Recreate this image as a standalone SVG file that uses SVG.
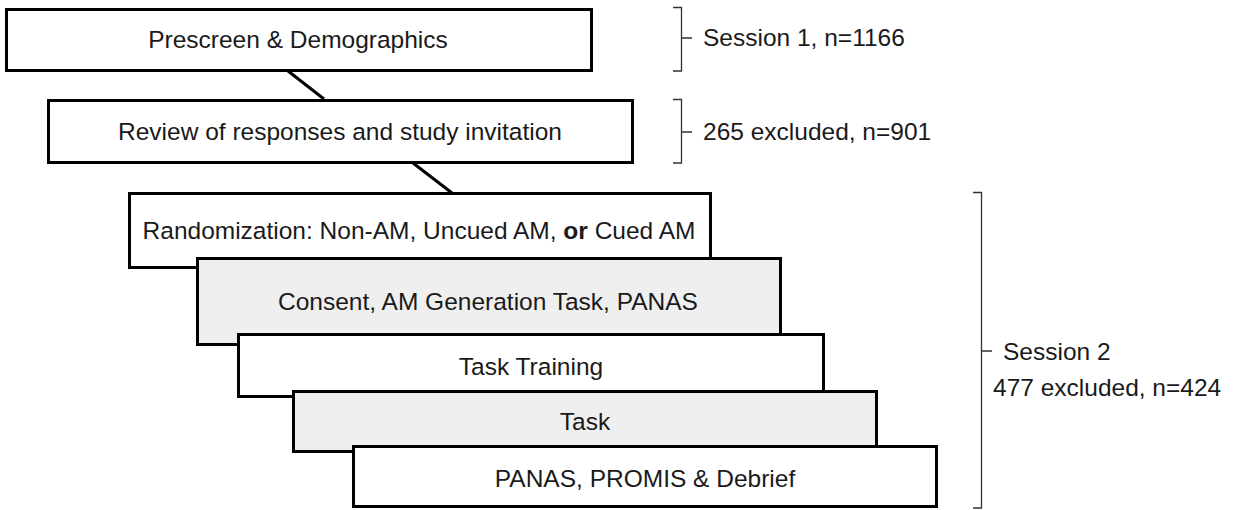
<svg xmlns="http://www.w3.org/2000/svg" width="1234" height="510" viewBox="0 0 1234 510">
  <style>
    .box { fill: #ffffff; stroke: #000000; stroke-width: 3; }
    .gray { fill: #efefef; }
    .lbl { font-family: "Liberation Sans", Arial, sans-serif; font-size: 24.5px; fill: #1a1a1a; text-anchor: middle; }
    .side { font-family: "Liberation Sans", Arial, sans-serif; font-size: 24.5px; fill: #1a1a1a; }
    .conn { stroke: #000000; stroke-width: 3; fill: none; }
    .brace { stroke: #333333; stroke-width: 1.3; fill: none; }
  </style>
  <rect width="1234" height="510" fill="#ffffff"/>
  <g id="connectors">
    <line class="conn" x1="288" y1="71" x2="324" y2="99"/>
    <line class="conn" x1="413" y1="163" x2="452" y2="193"/>
  </g>
  <g id="node-prescreen">
    <rect class="box" x="6.5" y="9.5" width="585" height="61"/>
    <text class="lbl" x="298" y="48">Prescreen &amp; Demographics</text>
  </g>
  <g id="node-review">
    <rect class="box" x="48.5" y="100.5" width="584" height="62"/>
    <text class="lbl" x="340" y="140">Review of responses and study invitation</text>
  </g>
  <g id="node-randomization">
    <rect class="box" x="129.5" y="193.5" width="581" height="74"/>
    <text class="lbl" x="419" y="239">Randomization: Non-AM, Uncued AM, <tspan font-weight="bold">or</tspan> Cued AM</text>
  </g>
  <g id="node-consent">
    <rect class="box gray" x="197.5" y="258.5" width="583" height="86"/>
    <text class="lbl" x="488" y="310">Consent, AM Generation Task, PANAS</text>
  </g>
  <g id="node-training">
    <rect class="box" x="238.5" y="334.5" width="585" height="62"/>
    <text class="lbl" x="531" y="375">Task Training</text>
  </g>
  <g id="node-task">
    <rect class="box gray" x="293.5" y="391.5" width="583" height="60"/>
    <text class="lbl" x="585" y="430">Task</text>
  </g>
  <g id="node-debrief">
    <rect class="box" x="353.5" y="446.5" width="583" height="60"/>
    <text class="lbl" x="645" y="487">PANAS, PROMIS &amp; Debrief</text>
  </g>
  <g id="annotations">
    <path class="brace" d="M673,7.5 H681.5 V71 H673 M681.5,38 H692"/>
    <text class="side" x="703" y="46">Session 1, n=1166</text>
    <path class="brace" d="M673,99.5 H681.5 V163 H673 M681.5,132 H692"/>
    <text class="side" x="703" y="140">265 excluded, n=901</text>
    <path class="brace" d="M973,192.5 H981.5 V508 H973 M981.5,351 H992"/>
    <text class="side" x="1003" y="360">Session 2</text>
    <text class="side" x="993" y="396">477 excluded, n=424</text>
  </g>
</svg>
